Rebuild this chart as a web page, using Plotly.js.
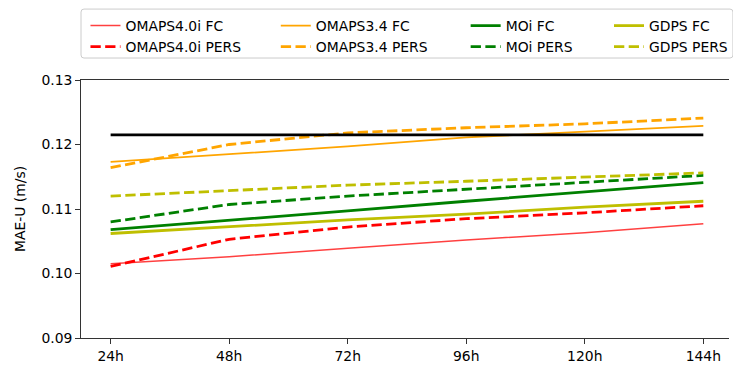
<!DOCTYPE html>
<html>
<head>
<meta charset="utf-8">
<script src="https://cdn.plot.ly/plotly-3.0.1.min.js"></script>
<style>
  html, body { margin: 0; padding: 0; background: #fff; }
  #chart { width: 733px; height: 367px; }
</style>
</head>
<body>
<div id="chart"></div>
<script>
// Lead times (hours) and their tick labels
const leadHours = [24, 48, 72, 96, 120, 144];
const leadLabels = ["24h", "48h", "72h", "96h", "120h", "144h"];

// Mean absolute error of the U current component (m/s)
const omaps40Fc   = [0.1015, 0.1026, 0.1039, 0.1052, 0.1063, 0.1077];
const omaps40Pers = [0.1011, 0.1053, 0.1072, 0.1085, 0.1094, 0.1105];
const omaps34Fc   = [0.1173, 0.1185, 0.1197, 0.1211, 0.1220, 0.1229];
const omaps34Pers = [0.1164, 0.1200, 0.1218, 0.1226, 0.1232, 0.1241];
const moiFc       = [0.1068, 0.1082, 0.1097, 0.1112, 0.1127, 0.1141];
const moiPers     = [0.1080, 0.1107, 0.1120, 0.1131, 0.1142, 0.1152];
const gdpsFc      = [0.1062, 0.1073, 0.1083, 0.1092, 0.1103, 0.1112];
const gdpsPers    = [0.1120, 0.1129, 0.1137, 0.1143, 0.1149, 0.1156];
const referenceMae = [0.1215, 0.1215, 0.1215, 0.1215, 0.1215, 0.1215];

const FONT = "DejaVu Sans, sans-serif";
const DASH = "10.3px,4.4px";

function series(name, y, color, width, dash, legend) {
  return {
    type: "scatter", mode: "lines", name: name,
    x: leadHours, y: y,
    line: { color: color, width: width, dash: dash || "solid" },
    legend: legend
  };
}

const traces = [
  series("OMAPS4.0i FC",   omaps40Fc,   "rgba(255,0,0,0.75)", 1.5, null, "legend"),
  series("OMAPS4.0i PERS", omaps40Pers, "#ff0000", 2.8, DASH, "legend"),
  series("OMAPS3.4 FC",    omaps34Fc,   "#ffa500", 1.8, null, "legend2"),
  series("OMAPS3.4 PERS",  omaps34Pers, "#ffa500", 2.8, DASH, "legend2"),
  series("MOi FC",         moiFc,       "#008000", 2.8, null, "legend3"),
  series("MOi PERS",       moiPers,     "#008000", 2.8, DASH, "legend3"),
  series("GDPS FC",        gdpsFc,      "#bfbf00", 2.8, null, "legend4"),
  series("GDPS PERS",      gdpsPers,    "#bfbf00", 2.8, DASH, "legend4"),
  {
    type: "scatter", mode: "lines", x: leadHours, y: referenceMae,
    line: { color: "#000000", width: 2.8 }, showlegend: false, hoverinfo: "skip"
  }
];

function legendAt(x) {
  return {
    x: x, y: 1.271, xanchor: "left", yanchor: "top",
    orientation: "v", bgcolor: "rgba(0,0,0,0)", borderwidth: 0,
    font: { family: FONT, size: 13.9, color: "#000" },
    tracegroupgap: 0
  };
}

const layout = {
  width: 733, height: 367,
  margin: { l: 81, r: 0, t: 80, b: 29, pad: 0 },
  paper_bgcolor: "#ffffff", plot_bgcolor: "#ffffff",
  font: { family: FONT, size: 13.9, color: "#000" },
  xaxis: {
    range: [18, 149.2],
    tickvals: leadHours, ticktext: leadLabels,
    ticks: "outside", ticklen: 4.9, tickwidth: 1, tickcolor: "#333",
    showline: true, linecolor: "#333", linewidth: 1, mirror: true,
    showgrid: false, zeroline: false,
    tickfont: { family: FONT, size: 13.9, color: "#000" }
  },
  yaxis: {
    range: [0.09, 0.13],
    tickvals: [0.09, 0.10, 0.11, 0.12, 0.13],
    tickformat: ".2f",
    ticks: "outside", ticklen: 4.9, tickwidth: 1, tickcolor: "#333",
    showline: true, linecolor: "#333", linewidth: 1, mirror: false,
    showgrid: false, zeroline: false,
    tickfont: { family: FONT, size: 13.9, color: "#000" },
    title: { text: "MAE-U (m/s)", standoff: 12, font: { family: FONT, size: 13.9, color: "#000" } }
  },
  showlegend: true,
  legend: legendAt(0.0069),
  legend2: legendAt(0.3006),
  legend3: legendAt(0.5936),
  legend4: legendAt(0.8153),
  shapes: [
    {
      // legend frame with slightly rounded corners
      type: "path", xref: "paper", yref: "paper", layer: "below",
      path: "M 0.0046 1.0852 L 1.0015 1.0852 Q 1.0061 1.0852 1.0061 1.0968 " +
            "L 1.0061 1.2633 Q 1.0061 1.2749 1.0015 1.2749 L 0.0046 1.2749 " +
            "Q 0 1.2749 0 1.2633 L 0 1.0968 Q 0 1.0852 0.0046 1.0852 Z",
      line: { color: "#cccccc", width: 1 },
      fillcolor: "rgba(255,255,255,0.8)"
    }
  ]
};

Plotly.newPlot("chart", traces, layout, { staticPlot: true, displayModeBar: false });
</script>
</body>
</html>
